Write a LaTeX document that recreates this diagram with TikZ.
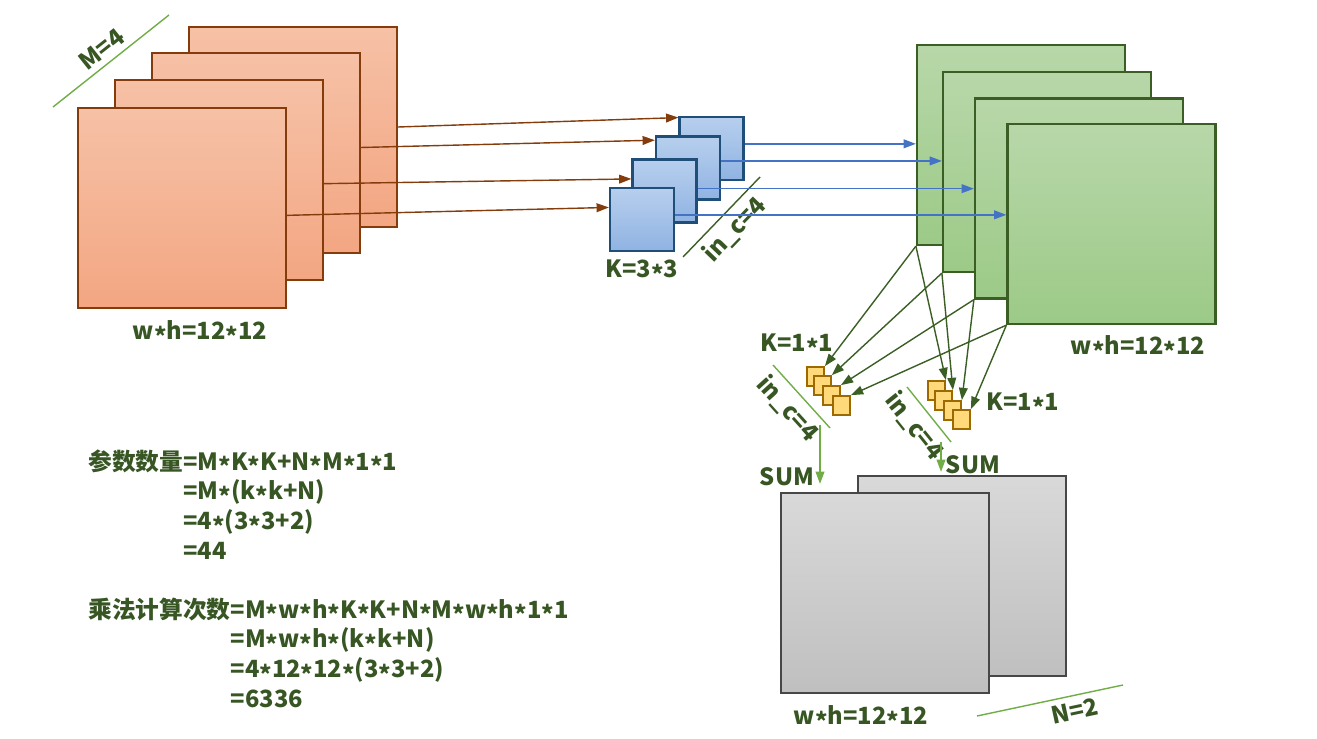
\documentclass[tikz,border=0pt]{standalone}
\usepackage{fontspec}
\setmainfont{Noto Sans CJK SC}
\usepackage{tikz}
\usetikzlibrary{positioning,arrows.meta}

\definecolor{txtgreen}{HTML}{375623}
\definecolor{linegreen}{HTML}{70AD47}
\definecolor{darkgreen}{HTML}{3B5E24}
\definecolor{brownline}{HTML}{843C0C}
\definecolor{blueline}{HTML}{4472C4}
\definecolor{navy}{HTML}{1F4E79}
\definecolor{salmontop}{HTML}{F6C1A6}
\definecolor{salmonbot}{HTML}{F3A682}
\definecolor{skytop}{HTML}{B7CFEE}
\definecolor{skybot}{HTML}{90B3E2}
\definecolor{leaftop}{HTML}{B8D7A9}
\definecolor{leafbot}{HTML}{9CCA87}
\definecolor{goldfill}{HTML}{FFD97A}
\definecolor{goldline}{HTML}{9C6A00}
\newcommand{\mul}{\raisebox{-0.45ex}{*}}

\begin{document}
\begin{tikzpicture}[
  x=0.02cm, y=-0.02cm,
  font=\fontsize{13.5}{17}\selectfont\bfseries,
  fmap/.style={draw, line width=1.3pt, minimum width=4.16cm, minimum height=4cm, inner sep=0pt},
  inmap/.style={fmap, draw=brownline, top color=salmontop, bottom color=salmonbot},
  outmap/.style={fmap, draw=darkgreen, top color=leaftop, bottom color=leafbot},
  summap/.style={fmap, draw=black!72, top color=black!15, bottom color=black!25},
  kern3/.style={draw=navy, line width=1.3pt, minimum width=1.28cm, minimum height=1.26cm, inner sep=0pt, top color=skytop, bottom color=skybot},
  kern1/.style={draw=goldline, line width=1pt, minimum width=0.34cm, minimum height=0.38cm, inner sep=0pt, fill=goldfill},
  lbl/.style={text=txtgreen},
  tagline/.style={linegreen, line width=0.8pt},
  arrow/.style={-{Triangle[length=7pt,width=5pt]}, line width=0.8pt}
]
\useasboundingbox (0,0) rectangle (1317,739);

% input maps
\node[inmap] (o1) at (293,127) {};
\node[inmap] (o2) at (256,153) {};
\node[inmap] (o3) at (219,180) {};
\node[inmap] (o4) at (182,208) {};
\node[lbl] (owh) at (200,333) {w\mul h=12\mul12};
\draw[tagline] (53,107) -- node[lbl, midway, above, sloped] {M=4} (169,15);

% 3x3 kernels
\node[kern3] (b1) at (711.5,148.5) {};
\node[kern3] (b2) at (688,168) {};
\node[kern3] (b3) at (664.5,191) {};
\node[kern3] (b4) at (642,219.5) {};
\node[lbl, below=1pt of b4] (k33) {K=3\mul3};
\draw[tagline, darkgreen] (683,257) -- node[lbl, midway, below, sloped] {in\_c=4} (760,177);

\draw[arrow, brownline] (o1.east) -- (b1.137);
\draw[arrow, brownline] (o2.3) -- (b2.140);
\draw[arrow, brownline] (o3.-2) -- (b3.160);
\draw[arrow, brownline] (o4.-4) -- (b4.160);

% depthwise outputs
\node[outmap] (g1) at (1021,145) {};
\node[outmap] (g2) at (1047,172) {};
\node[outmap] (g3) at (1079,198.5) {};
\node[outmap] (g4) at (1111.5,224) {};
\node[lbl] (gwh) at (1138,348) {w\mul h=12\mul12};

\draw[arrow, blueline] (b1.8) -- (b1.8 -| g1.west);
\draw[arrow, blueline] (b2.12) -- (b2.12 -| g2.west);
\draw[arrow, blueline] (b3.4) -- (b3.4 -| g3.west);
\draw[arrow, blueline] (b4.8) -- (b4.8 -| g4.west);

% 1x1 kernels
\node[kern1] (l1) at (815.5,376.5) {};
\node[kern1] (l2) at (822.5,385.5) {};
\node[kern1] (l3) at (831.5,395.5) {};
\node[kern1] (l4) at (841.5,405.5) {};
\node[kern1] (r1) at (936.5,390.5) {};
\node[kern1] (r2) at (943.5,400.5) {};
\node[kern1] (r3) at (952.5,410.5) {};
\node[kern1] (r4) at (961.5,419.5) {};
\node[lbl] (k11a) at (797,346) {K=1\mul1};
\node[lbl] (k11b) at (1023,405) {K=1\mul1};
\draw[tagline] (773,365) -- node[lbl, midway, below, sloped] {in\_c=4} (830,428);
\draw[tagline] (907,387) -- node[lbl, midway, below, sloped] {in\_c=4} (951,442);

\foreach \g/\k in {g1/1, g2/2, g3/3, g4/4} {
  \draw[arrow, darkgreen] (\g.south west) -- (l\k.north east);
  \draw[arrow, darkgreen] (\g.south west) -- (r\k.north east);
}

% pointwise outputs
\node[summap] (n1) at (962,576) {};
\node[summap] (n2) at (885,593) {};
\node[lbl] (nwh) at (861,718) {w\mul h=12\mul12};
\draw[tagline] (977,716) -- node[lbl, pos=0.65, below, sloped] {N=2} (1123,685);

\coordinate (s1) at (820,425);
\coordinate (s2) at (941,442);
\draw[arrow, linegreen, shorten >=0.16cm] (s1) -- (s1 |- n2.north);
\draw[arrow, linegreen, shorten >=0.06cm] (s2) -- (s2 |- n1.north);
\node[lbl] (sum1) at (787,477) {SUM};
\node[lbl] (sum2) at (973,465) {SUM};

% counts
\node[lbl, anchor=base west, inner sep=0pt] (params) at (88,470) {%
  \begin{tabular}[t]{@{}l@{}l@{}}
  参数数量&=M\mul K\mul K+N\mul M\mul1\mul1\\
  &=M\mul(k\mul k+N)\\
  &=4\mul(3\mul3+2)\\
  &=44
  \end{tabular}};
\node[lbl, anchor=base west, inner sep=0pt] (mults) at (88,618) {%
  \begin{tabular}[t]{@{}l@{}l@{}}
  乘法计算次数&=M\mul w\mul h\mul K\mul K+N\mul M\mul w\mul h\mul1\mul1\\
  &=M\mul w\mul h\mul(k\mul k+N)\\
  &=4\mul12\mul12\mul(3\mul3+2)\\
  &=6336
  \end{tabular}};
\end{tikzpicture}
\end{document}
